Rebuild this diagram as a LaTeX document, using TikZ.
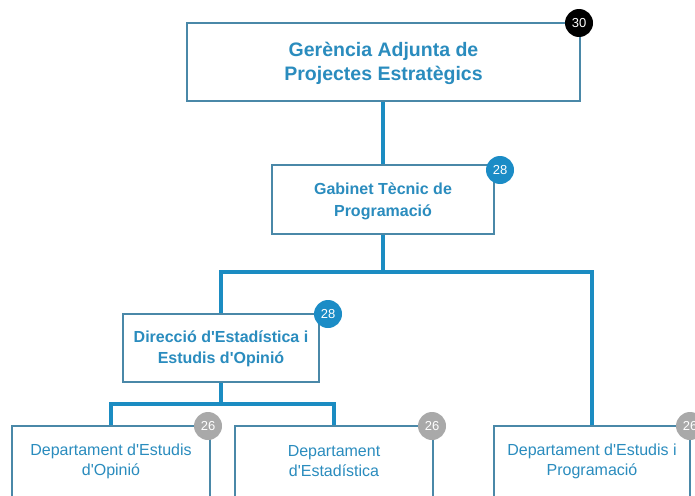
\documentclass[tikz,border=0pt]{standalone}
\usepackage{fontspec}
\setmainfont{Liberation Sans}[Ligatures=TeXOff]
\definecolor{conn}{HTML}{1B8CC2}
\definecolor{bordc}{HTML}{4A88A8}
\definecolor{txtc}{HTML}{2A8CBE}
\definecolor{badgeblue}{HTML}{1B8CC6}
\definecolor{badgegray}{HTML}{A9A9A9}
\begin{document}
\begin{tikzpicture}[x=1pt,y=-1pt,
  boxst/.style={draw=bordc,line width=1.8pt,fill=white,inner sep=0pt},
  conn/.style={draw=conn,line width=3.2pt},
  badge/.style={circle,minimum size=28pt,inner sep=0pt,text=white,font=\fontsize{13}{13}\selectfont},
  ttl/.style={text=txtc,align=center}]
\useasboundingbox (0,0) rectangle (695,495);
\clip (0,0) rectangle (695,495);
% boxes
\node[boxst,minimum width=393pt,minimum height=78pt] (top) at (383.5,62) {};
\node[ttl,font=\bfseries\fontsize{19.5}{24}\selectfont] (toptxt) at (383.5,63) {Gerència Adjunta de\\Projectes Estratègics};
\node[boxst,minimum width=222pt,minimum height=69pt] (gab) at (383,199.5) {};
\node[ttl,font=\bfseries\fontsize{16}{22}\selectfont] (gabtxt) at (383,201) {Gabinet Tècnic de\\Programació};
\node[boxst,minimum width=196pt,minimum height=68pt] (dir) at (221,348) {};
\node[ttl,font=\bfseries\fontsize{16}{21}\selectfont] (dirtxt) at (221,349) {Direcció d'Estadística i\\Estudis d'Opinió};
\node[boxst,minimum width=198pt,minimum height=100pt] (d1) at (111,476) {};
\node[ttl,font=\fontsize{16}{20}\selectfont] (d1txt) at (111,461) {Departament d'Estudis\\d'Opinió};
\node[boxst,minimum width=198pt,minimum height=100pt] (d2) at (334,476) {};
\node[ttl,font=\fontsize{16}{20}\selectfont] (d2txt) at (334,461) {Departament\\d'Estadística};
\node[boxst,minimum width=196pt,minimum height=100pt] (d3) at (592,476) {};
\node[ttl,font=\fontsize{16}{20}\selectfont] (d3txt) at (592,461) {Departament d'Estudis i\\Programació};
% junctions
\coordinate (j1) at (383,272);
\coordinate (jl) at (dir.north |- j1);
\coordinate (jr) at (d3.north |- j1);
\coordinate (j2) at (221,404);
\coordinate (j2l) at (d1.north |- j2);
\coordinate (j2r) at (d2.north |- j2);
% connector lines
\draw[conn] (gab.north |- top.south) -- (gab.north);
\draw[conn] (gab.south) -- (j1);
\draw[conn,line cap=rect] (jl) -- (jr);
\draw[conn] (jl) -- (dir.north);
\draw[conn] (jr) -- (d3.north);
\draw[conn] (dir.south) -- (j2);
\draw[conn,line cap=rect] (j2l) -- (j2r);
\draw[conn] (j2l) -- (d1.north);
\draw[conn] (j2r) -- (d2.north);
% badges
\node[badge,fill=black] (b1) at (579,23) {30};
\node[badge,fill=badgeblue] (b2) at (500,170) {28};
\node[badge,fill=badgeblue] (b3) at (328,314) {28};
\node[badge,fill=badgegray] (b4) at (208,426) {26};
\node[badge,fill=badgegray] (b5) at (432,426) {26};
\node[badge,fill=badgegray] (b6) at (690,426) {26};
\end{tikzpicture}
\end{document}
